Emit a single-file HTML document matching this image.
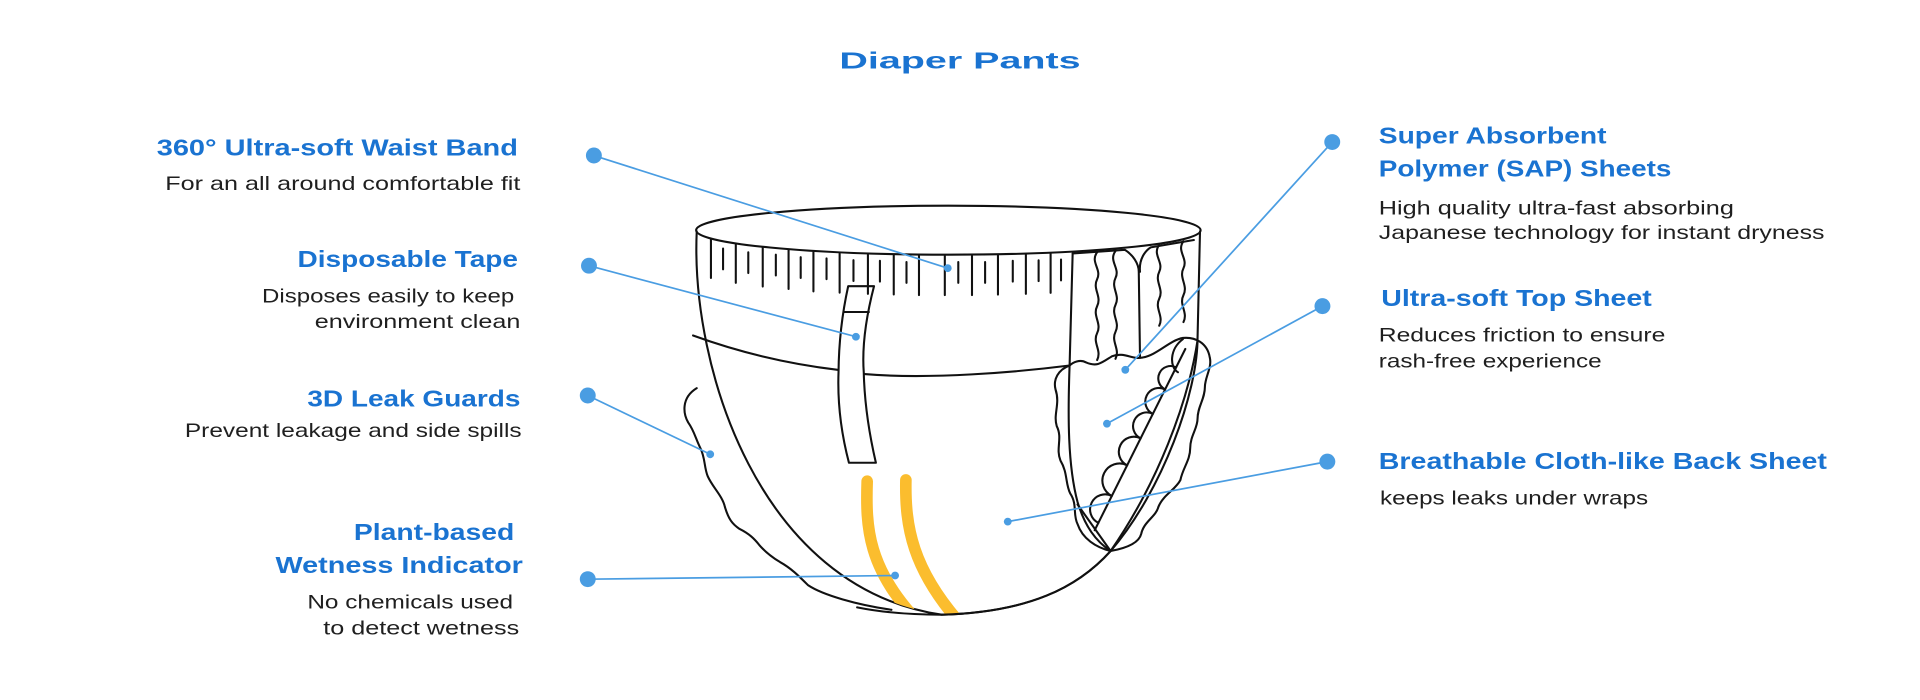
<!DOCTYPE html>
<html><head><meta charset="utf-8"><style>
html,body{margin:0;padding:0;background:#fff;width:1920px;height:700px;overflow:hidden}
svg{display:block}
.h{font-family:"Liberation Sans",sans-serif;font-weight:bold;fill:#1a73d1;font-size:19px}
.b{font-family:"Liberation Sans",sans-serif;fill:#1f1f1f;font-size:16px}
.k{fill:none;stroke:#111;stroke-width:1.7;stroke-linejoin:round;stroke-linecap:round}
.c{stroke:#4a9de2;stroke-width:1.4;fill:none}
.d{fill:#4a9de2}
</style></head><body>
<svg width="1920" height="700" viewBox="0 0 1568 571.67">
<defs><clipPath id="bc"><path d="M569,189 C564,300 620,480 769,502 C840,500 880,480 907,450 C950,400 978,320 978,276 L980,189Z"/></clipPath></defs>
<text class="h" x="784" y="56" text-anchor="middle" font-size="24" textLength="197" lengthAdjust="spacingAndGlyphs">Diaper Pants</text>

<text class="h" x="423" y="127" text-anchor="end" textLength="295" lengthAdjust="spacingAndGlyphs">360° Ultra-soft Waist Band</text>
<text class="b" x="425" y="155" text-anchor="end" textLength="290" lengthAdjust="spacingAndGlyphs">For an all around comfortable fit</text>
<text class="h" x="423" y="218" text-anchor="end" textLength="180" lengthAdjust="spacingAndGlyphs">Disposable Tape</text>
<text class="b" x="420" y="247" text-anchor="end" textLength="206" lengthAdjust="spacingAndGlyphs">Disposes easily to keep</text>
<text class="b" x="425" y="268" text-anchor="end" textLength="168" lengthAdjust="spacingAndGlyphs">environment clean</text>
<text class="h" x="425" y="332" text-anchor="end" textLength="174" lengthAdjust="spacingAndGlyphs">3D Leak Guards</text>
<text class="b" x="426" y="357" text-anchor="end" textLength="275" lengthAdjust="spacingAndGlyphs">Prevent leakage and side spills</text>
<text class="h" x="420" y="441" text-anchor="end" textLength="131" lengthAdjust="spacingAndGlyphs">Plant-based</text>
<text class="h" x="427" y="468" text-anchor="end" textLength="202" lengthAdjust="spacingAndGlyphs">Wetness Indicator</text>
<text class="b" x="419" y="497" text-anchor="end" textLength="168" lengthAdjust="spacingAndGlyphs">No chemicals used</text>
<text class="b" x="424" y="518" text-anchor="end" textLength="160" lengthAdjust="spacingAndGlyphs">to detect wetness</text>

<text class="h" x="1126" y="117" textLength="186" lengthAdjust="spacingAndGlyphs">Super Absorbent</text>
<text class="h" x="1126" y="144" textLength="239" lengthAdjust="spacingAndGlyphs">Polymer (SAP) Sheets</text>
<text class="b" x="1126" y="175" textLength="290" lengthAdjust="spacingAndGlyphs">High quality ultra-fast absorbing</text>
<text class="b" x="1126" y="195" textLength="364" lengthAdjust="spacingAndGlyphs">Japanese technology for instant dryness</text>
<text class="h" x="1128" y="250" textLength="221" lengthAdjust="spacingAndGlyphs">Ultra-soft Top Sheet</text>
<text class="b" x="1126" y="279" textLength="234" lengthAdjust="spacingAndGlyphs">Reduces friction to ensure</text>
<text class="b" x="1126" y="300" textLength="182" lengthAdjust="spacingAndGlyphs">rash-free experience</text>
<text class="h" x="1126" y="383" textLength="366" lengthAdjust="spacingAndGlyphs">Breathable Cloth-like Back Sheet</text>
<text class="b" x="1127" y="412" textLength="219" lengthAdjust="spacingAndGlyphs">keeps leaks under wraps</text>

<!-- left leak guard -->
<path class="k" fill="#fff" d="M569,317 C556,325 558,338 562,345 C567,352 568,358 572,366 C576,374 575,382 578,389 C582,398 590,405 592,414 C595,424 598,428 604,432 C612,436 616,440 620,445 C626,452 632,456 637,459 C646,464 652,470 660,478 C672,486 700,494 728,498"/>
<!-- body -->
<path class="k" fill="#fff" d="M569,189 C564,300 620,480 769,502 C840,500 880,480 907,450 C950,400 978,320 978,276 L980,189"/>
<!-- band line -->
<path class="k" d="M566,274 C610,290 650,298 684,302"/>
<path class="k" d="M706,305.5 C760,310 830,304 873.5,298.5"/>
<!-- ellipse -->
<ellipse class="k" fill="#fff" cx="774.5" cy="188" rx="206" ry="20"/>
<!-- ticks -->
<g class="k">
<path d="M580.6,195 v32M600.9,199 v32M622.9,202 v32M644,204 v32M664.3,206 v32M685.7,207 v32M708.8,208 v32M729.9,208.5 v32M750.5,209 v32M771.6,209 v32M793.8,209 v32M815,208.6 v32M837.8,208 v32M858,207.2 v32"/>
<path d="M590.5,203 v17M611.1,206 v17M633.6,208 v17M653.9,210 v17M675,211 v17M697,212.5 v17M718.6,213 v17M740.3,214 v17M782.6,214 v17M804.5,214 v17M827.1,213 v17M848.2,212.6 v17M866.5,212 v17"/>
</g>
<!-- right cuff -->
<path class="k" fill="#fff" d="M876,207 L873.5,298.5 C872,340 872,380 880,410 C886,430 895,442 907,450"/>
<path class="k" d="M896,206 c-6,8 4,14 0,22 c-4,8 4,14 0,22 c-4,8 4,14 0,22 c-4,8 4,14 0,22 M911,205 c-6,8 4,14 0,22 c-4,8 4,14 0,22 c-4,8 4,14 0,22 c-4,8 4,14 0,22"/>
<path class="k" d="M876,207 L918.6,204 C925,208 930,215 930,222 L931,291 M931,222 C930,212 935,205 939.7,202 L975,196"/>
<path class="k" d="M946.7,200 c-6,8 4,14 0,22 c-4,8 4,14 0,22 c-4,8 4,14 0,22 M966.5,197 c-6,8 4,14 0,22 c-4,8 4,14 0,22 c-4,8 4,14 0,22"/>
<path class="k" fill="#fff" d="M873.5,298.5 C864,302 860,310 862,318 C866,330 860,338 863,348 C868,358 862,366 866,376 C872,386 870,395 874,403 C880,412 876,420 880,428 C884,440 895,447 907,450 C918,448 930,444 932,436 C934,426 944,422 946,414 C950,404 960,400 964,392 C966,382 972,376 972,366 C972,356 978,350 978,342 C978,332 984,326 984,316 C984,308 990,300 988,292 C986,280 976,275 966,276 C955,278 945,290 933,292 C925,294 918,287 908,291 C900,296 896,300 887,296 C882,293 876,296 873.5,298.5 Z"/>
<path class="k" d="M968,285 L894,433"/>
<path class="k" d="M978,278 C970,330 945,395 907,450 M907,450 L880,412"/>
<path class="k" d="M966,277 C955,285 955,300 962,304 M960.5,300 A8,8 0 0 0 951.5,318 M951.5,318 A9,9 0 0 0 941.5,338 M941.5,338 A9,9 0 0 0 931.5,358 M931.5,358 A10,10 0 0 0 920.5,380 M920.5,380 A11,11 0 0 0 908,405 M908,405 A11,11 0 0 0 897,427"/>
<!-- tape -->
<path class="k" fill="#fff" d="M692.7,233.7 L713.8,233.7 C707,260 704,285 705.4,304 C706,330 710,355 715.3,377.9 L693.3,377.9 C686,350 684,325 684.8,304 C685,280 688,255 692.7,233.7 Z"/>
<path class="k" d="M689,254.8 L709.6,254.8"/>
<!-- yellow stripes -->
<g clip-path="url(#bc)">
<path d="M708.2,393 C707,430 708,465 752,510" stroke="#fbbd2e" stroke-width="9.5" fill="none" stroke-linecap="round"/>
<path d="M739.8,392 C739,430 745,465 785,510" stroke="#fbbd2e" stroke-width="9.5" fill="none" stroke-linecap="round"/>
</g>
<path class="k" d="M700,496 C725,501 750,502 769,502 C840,500 880,480 907,450"/>
<!-- connectors -->
<g class="c">
<path d="M485,127 L774,219"/><path d="M481,217 L699,275"/><path d="M480,323 L580,371"/>
<path d="M480,473 L731,470"/><path d="M1088,116 L919,302"/><path d="M1080,250 L904,346"/><path d="M1084,377 L823,426"/>
</g>
<g class="d">
<circle cx="485" cy="127" r="6.5"/><circle cx="481" cy="217" r="6.5"/><circle cx="480" cy="323" r="6.5"/><circle cx="480" cy="473" r="6.5"/>
<circle cx="1088" cy="116" r="6.5"/><circle cx="1080" cy="250" r="6.5"/><circle cx="1084" cy="377" r="6.5"/>
<circle cx="774" cy="219" r="3.2"/><circle cx="699" cy="275" r="3.2"/><circle cx="580" cy="371" r="3.2"/><circle cx="731" cy="470" r="3.2"/>
<circle cx="919" cy="302" r="3.2"/><circle cx="904" cy="346" r="3.2"/><circle cx="823" cy="426" r="3.2"/>
</g>
</svg>
</body></html>
